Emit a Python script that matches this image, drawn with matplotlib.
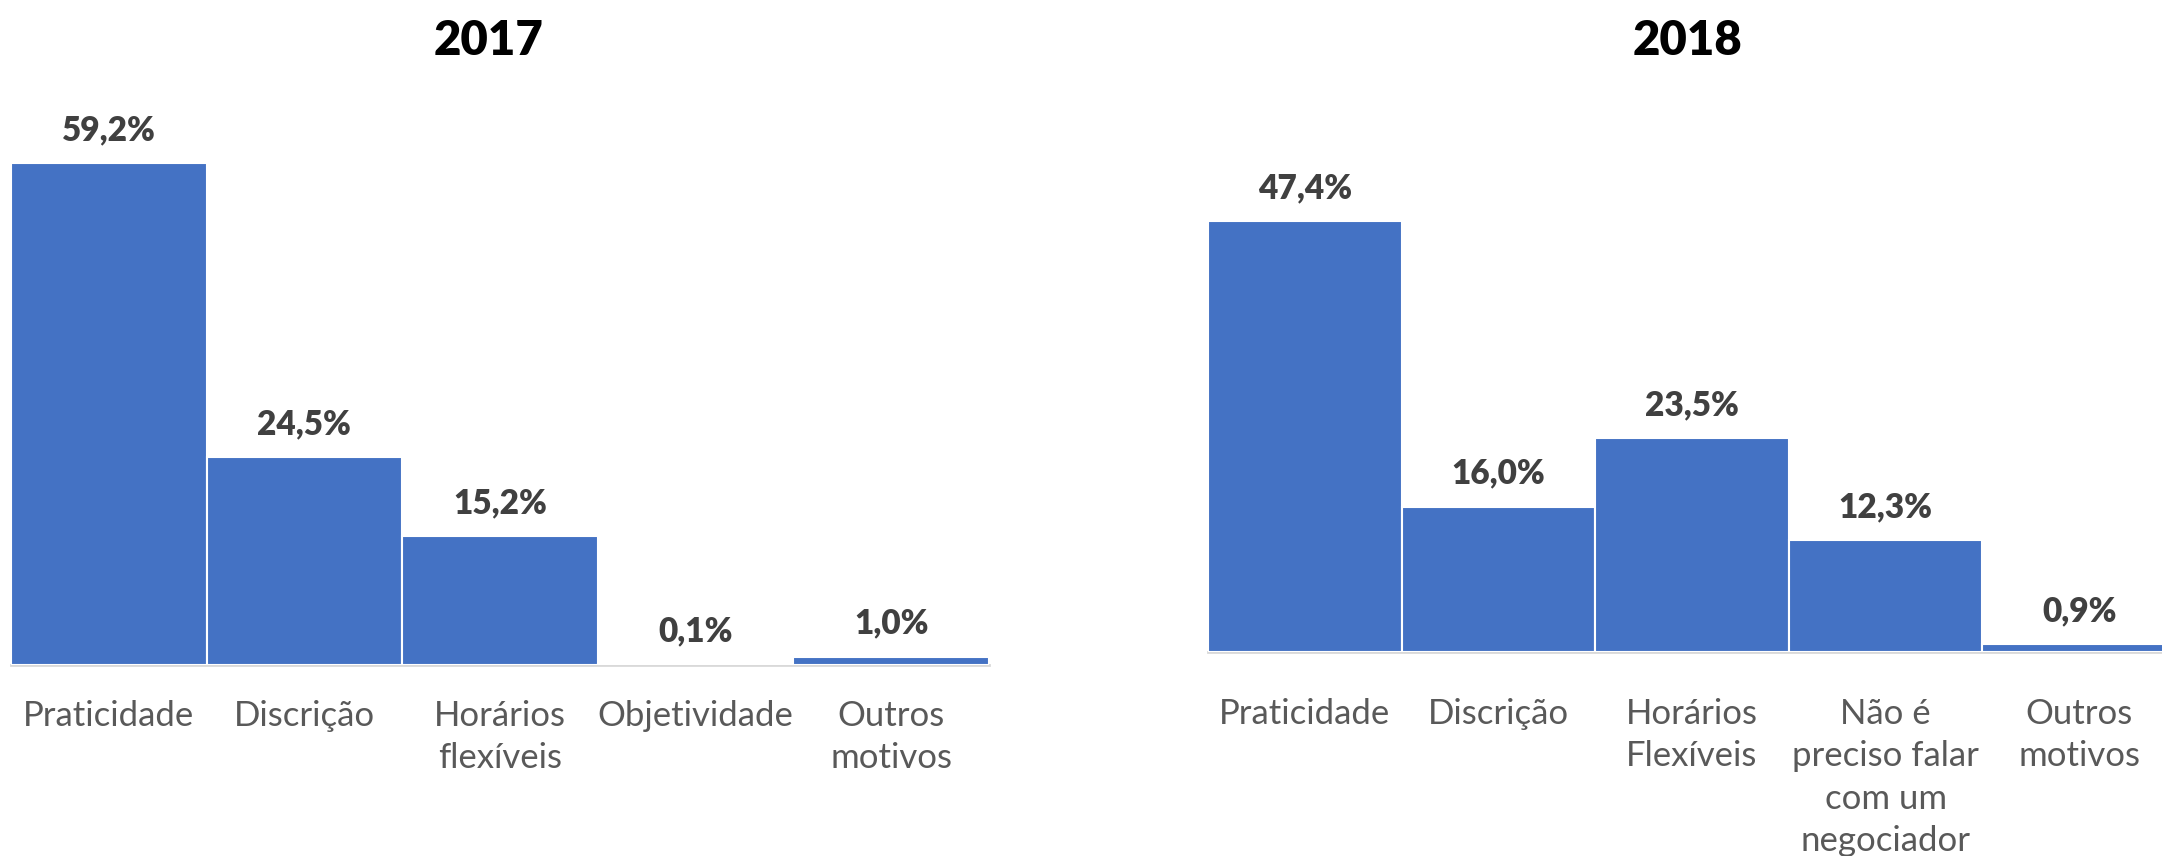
import matplotlib
matplotlib.use("Agg")
import matplotlib.pyplot as plt

cats_2017 = ["Praticidade", "Discrição", "Horários\nflexíveis", "Objetividade", "Outros\nmotivos"]
vals_2017 = [59.2, 24.5, 15.2, 0.1, 1.0]
labels_2017 = ["59,2%", "24,5%", "15,2%", "0,1%", "1,0%"]

cats_2018 = ["Praticidade", "Discrição", "Horários\nFlexíveis", "Não é\npreciso falar\ncom um\nnegociador", "Outros\nmotivos"]
vals_2018 = [47.4, 16.0, 23.5, 12.3, 0.9]
labels_2018 = ["47,4%", "16,0%", "23,5%", "12,3%", "0,9%"]

W, H = 2162, 856
plt.rcParams['font.family'] = ['Lato', 'DejaVu Sans']
fig = plt.figure(figsize=(W / 100, H / 100), dpi=100)

BAR = "#4472C4"

def panel(rect_px, ymax, cats, vals, labels, title, title_x, pad):
    x0, base, width, px_per = rect_px
    height = ymax * px_per
    ax = fig.add_axes([x0 / W, (H - base) / H, width / W, height / H])
    xs = list(range(len(vals)))
    ax.bar(xs, vals, width=1.0, color=BAR, edgecolor="white", linewidth=1.5, zorder=2)
    ax.set_xlim(-0.5, len(vals) - 0.5)
    ax.set_ylim(0, ymax)
    for s in ["top", "right", "left"]:
        ax.spines[s].set_visible(False)
    ax.spines["bottom"].set_color("#D9D9D9")
    ax.spines["bottom"].set_linewidth(2)
    ax.spines["bottom"].set_zorder(1)
    ax.set_yticks([])
    ax.set_xticks(xs)
    ax.set_xticklabels(cats, fontsize=25, color="#595959", linespacing=1.40)
    ax.tick_params(axis="x", length=0, pad=pad)
    for x, v, lab in zip(xs, vals, labels):
        ax.annotate(lab, (x, v), xytext=(0, 16.5), textcoords="offset points",
                    ha="center", va="baseline", fontsize=24, fontweight="heavy",
                    color="#404040")
    fig.text(title_x / W, 1 - 55 / H, title, ha="center", va="baseline", fontsize=34,
             fontweight="heavy", color="black")
    return ax

panel((11, 665, 978, 8.48), 70, cats_2017, vals_2017, labels_2017, "2017", 489, 25)
panel((1208, 652, 968, 9.09), 60, cats_2018, vals_2018, labels_2018, "2018", 1688, 33)

fig.savefig("out.png", dpi=100, facecolor="white")
